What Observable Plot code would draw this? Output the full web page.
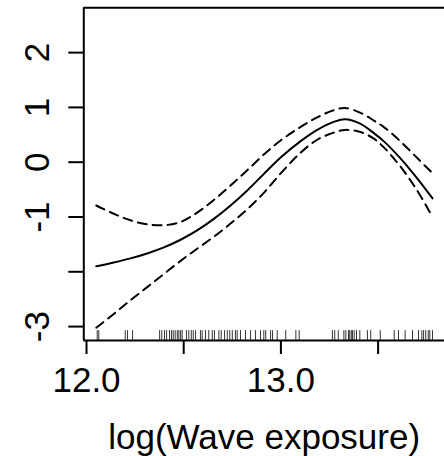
<!DOCTYPE html>
<html>
<head>
<meta charset="utf-8">
<script src="https://cdn.jsdelivr.net/npm/d3@7"></script>
<script src="https://cdn.jsdelivr.net/npm/@observablehq/plot@0.6"></script>
<style>
  html, body { margin: 0; padding: 0; background: #fff; overflow: hidden; }
</style>
</head>
<body>
<div id="chart"></div>
<script>
const xGrid = [12.05, 12.14, 12.226, 12.312, 12.398, 12.484, 12.569, 12.655, 12.741, 12.827, 12.912, 13.0, 13.1, 13.187, 13.272, 13.33, 13.41, 13.478, 13.53, 13.615, 13.70, 13.78];
const fitValues = [-1.90, -1.83, -1.755, -1.665, -1.555, -1.415, -1.245, -1.035, -0.79, -0.515, -0.215, 0.09, 0.38, 0.59, 0.735, 0.785, 0.70, 0.53, 0.38, 0.07, -0.29, -0.66];
const upperValues = [-0.79, -0.94, -1.06, -1.135, -1.15, -1.09, -0.92, -0.69, -0.425, -0.145, 0.14, 0.40, 0.64, 0.82, 0.95, 0.99, 0.90, 0.76, 0.64, 0.38, 0.08, -0.20];
const lowerValues = [-3.02, -2.77, -2.52, -2.28, -2.04, -1.80, -1.58, -1.36, -1.12, -0.86, -0.56, -0.20, 0.17, 0.41, 0.54, 0.59, 0.55, 0.43, 0.27, -0.08, -0.51, -1.0];
const rugX = [12.055, 12.063, 12.199, 12.211, 12.237, 12.376, 12.387, 12.401, 12.412, 12.427, 12.437, 12.446, 12.456, 12.467, 12.475, 12.484, 12.492, 12.514, 12.526, 12.539, 12.549, 12.561, 12.586, 12.595, 12.612, 12.629, 12.647, 12.658, 12.681, 12.693, 12.710, 12.724, 12.737, 12.750, 12.766, 12.775, 12.792, 12.818, 12.844, 12.869, 12.895, 12.912, 12.922, 12.947, 12.957, 12.981, 13.025, 13.077, 13.094, 13.265, 13.277, 13.295, 13.324, 13.334, 13.348, 13.354, 13.362, 13.368, 13.377, 13.389, 13.406, 13.445, 13.462, 13.511, 13.583, 13.605, 13.639, 13.677, 13.708, 13.725, 13.734, 13.745, 13.758, 13.766, 13.780];
const xTicks = [12, 12.5, 13, 13.5];
const xTickLabels = ["12.0", "", "13.0", ""];
const yTicks = [-3, -2, -1, 0, 1, 2];
const yTickLabels = ["-3", "", "-1", "0", "1", "2"];
const xTitle = "log(Wave exposure)";

const xDomain = [11.986, 13.8416];
const yDomain = [-3.254, 2.818];

const curveData = xGrid.map((x, i) => ({x, fit: fitValues[i], upper: upperValues[i], lower: lowerValues[i]}));
const yLabelData = yTicks.map((y, i) => ({y, label: yTickLabels[i]}));

const chart = Plot.plot({
  width: 444,
  height: 456,
  marginLeft: 83.3,
  marginRight: 0,
  marginTop: 7.3,
  marginBottom: 116,
  style: {fontFamily: "'Liberation Sans', Arial, sans-serif", fontSize: "35px", background: "#fff", color: "#000"},
  x: {domain: xDomain},
  y: {domain: yDomain},
  marks: [
    Plot.ruleX(rugX, {x: d => d, y1: yDomain[0], y2: yDomain[0] + 0.18, stroke: "#000", strokeWidth: 1, strokeOpacity: 0.8}),
    Plot.line(curveData, {x: "x", y: "upper", curve: "catmull-rom", stroke: "#000", strokeWidth: 2, strokeDasharray: "9,6"}),
    Plot.line(curveData, {x: "x", y: "lower", curve: "catmull-rom", stroke: "#000", strokeWidth: 2, strokeDasharray: "9,6"}),
    Plot.line(curveData, {x: "x", y: "fit", curve: "catmull-rom", stroke: "#000", strokeWidth: 2}),
    Plot.ruleX([xDomain[0]], {stroke: "#000", strokeWidth: 2}),
    Plot.ruleY([yDomain[0], yDomain[1]], {stroke: "#000", strokeWidth: 2}),
    Plot.axisX({ticks: xTicks, tickFormat: (d) => xTickLabels[xTicks.indexOf(d)], tickSize: 14, tickPadding: 13, fontSize: 35, strokeWidth: 2, label: null}),
    Plot.axisY({ticks: yTicks, tickFormat: () => "", tickSize: 15, strokeWidth: 2, label: null}),
    Plot.text(yLabelData, {y: "y", text: "label", frameAnchor: "left", dx: -35, rotate: -90, textAnchor: "middle", lineAnchor: "bottom", fontSize: 35, fill: "#000"}),
    Plot.text([xTitle], {text: d => d, frameAnchor: "bottom", dy: 108.3, lineAnchor: "bottom", textAnchor: "middle", fontSize: 35, fill: "#000"})
  ]
});
document.getElementById("chart").appendChild(chart);
</script>
</body>
</html>
